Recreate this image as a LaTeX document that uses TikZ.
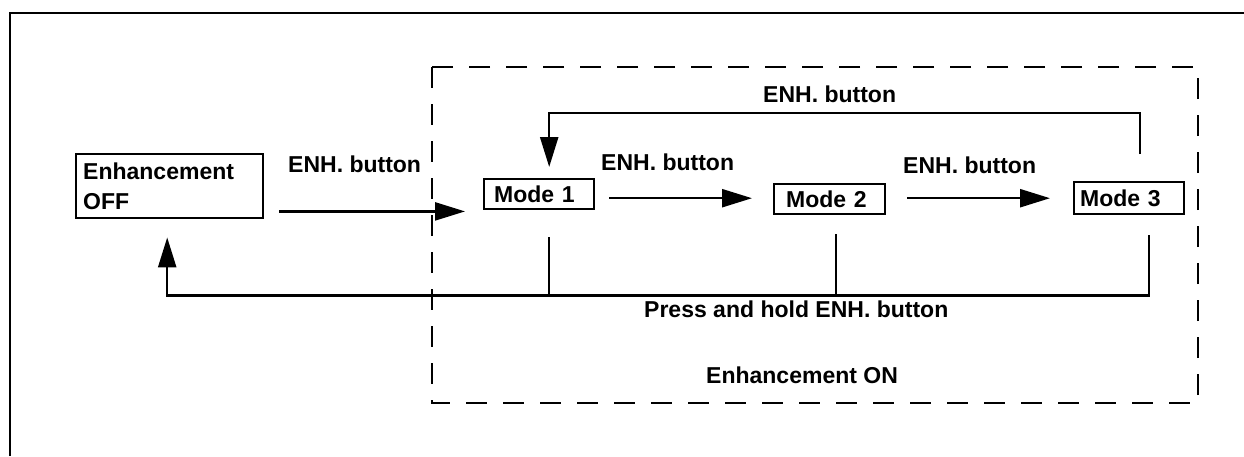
\documentclass[tikz,border=0pt]{standalone}
\usepackage{fontspec}
\setmainfont{Liberation Sans}
\usetikzlibrary{arrows.meta,calc}
\begin{document}
\begin{tikzpicture}[x=1pt,y=-1pt,line width=2.4pt,
  font=\fontsize{23}{30}\selectfont\bfseries,
  arr/.style={-{Triangle[length=30pt,width=18pt]}},
  box/.style={draw,anchor=north west,align=left,inner ysep=0pt},
  modebox/.style={box,minimum height=30pt},
  lbl/.style={anchor=base west,inner sep=0pt},
  dashbox/.style={dash pattern=on 21pt off 16pt}]
\useasboundingbox (0,0) rectangle (1244,456);
% outer frame
\draw (10,456) -- (10,13) -- (1244,13);
% dashed region
\draw[dashbox] (432,67) rectangle (1198,403);
% nodes
\node[box,minimum height=64pt,inner xsep=7pt,text width=173pt] (off) at (75,153) {Enhancement\\OFF};
\node[modebox,inner xsep=10pt,text width=90pt] (m1) at (483,178) {Mode 1};
\node[modebox,inner xsep=12pt,text width=87pt] (m2) at (773,183) {Mode 2};
\node[modebox,minimum height=32pt,inner xsep=6pt,text width=98pt] (m3) at (1073,181) {Mode 3};
% connectors
\draw[arr] ($(off.south east)+(15,-8)$) -- ($(m1.south west)+(-18,1)$);
\draw[arr] ($(m1.east)+(14,4)$) -- ($(m2.west)+(-21,-1)$);
\draw[arr] ($(m2.east)+(21,-1)$) -- ($(m3.west)+(-23,0)$);
\draw[arr] ($(m3.north)+(11,-27)$) -- ++(0,-41) -| ($(m1.north)+(10,-11)$);
\draw[arr] ($(m3.south)+(20,20)$) -- ++(0,60) -| ($(off.south)+(-2.5,18)$);
\draw ($(m1.south)+(10,27)$) -- ($(m1.south)+(10,85)$);
\draw ($(m2.south)+(6.5,19)$) -- ($(m2.south)+(6.5,80)$);
% labels
\node[lbl] (l1) at (287,172) {ENH. button};
\node[lbl] (l2) at (600,170) {ENH. button};
\node[lbl] (l3) at (902,173) {ENH. button};
\node[lbl] (lt) at (762,102) {ENH. button};
\node[lbl] (lp) at (643,317) {Press and hold ENH. button};
\node[lbl] (lon) at (705,383) {Enhancement ON};
\end{tikzpicture}
\end{document}
